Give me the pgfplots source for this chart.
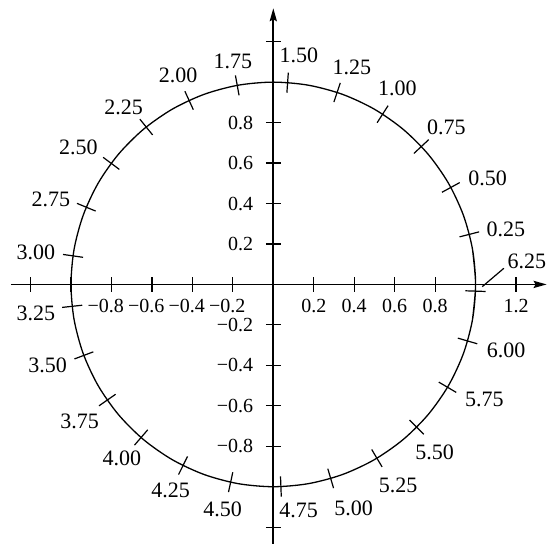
\documentclass[border=0pt]{standalone}
\usepackage{fontspec}
\setmainfont{Liberation Serif}
\usepackage{pgfplots}
\pgfplotsset{compat=1.18}
\usepackage{pgfplotstable}
\usetikzlibrary{arrows.meta}

% unit circle (10 degree steps, overlapping ends)
\pgfplotstableread{
c s
0.98481 -0.17365
1 0
0.98481 0.17365
0.93969 0.34202
0.86603 0.5
0.76604 0.64279
0.64279 0.76604
0.5 0.86603
0.34202 0.93969
0.17365 0.98481
0 1
-0.17365 0.98481
-0.34202 0.93969
-0.5 0.86603
-0.64279 0.76604
-0.76604 0.64279
-0.86603 0.5
-0.93969 0.34202
-0.98481 0.17365
-1 0
-0.98481 -0.17365
-0.93969 -0.34202
-0.86603 -0.5
-0.76604 -0.64279
-0.64279 -0.76604
-0.5 -0.86603
-0.34202 -0.93969
-0.17365 -0.98481
0 -1
0.17365 -0.98481
0.34202 -0.93969
0.5 -0.86603
0.64279 -0.76604
0.76604 -0.64279
0.86603 -0.5
0.93969 -0.34202
0.98481 -0.17365
1 0
0.98481 0.17365
}\circletable

% marks on the circle at t = 0.25, 0.50, ..., 6.25 (cos t, sin t)
\pgfplotstableread{
t c s
0.25 0.96891 0.24740
0.50 0.87758 0.47943
0.75 0.73169 0.68164
1.00 0.54030 0.84147
1.25 0.31532 0.94898
1.50 0.07074 0.99749
1.75 -0.17825 0.98399
2.00 -0.41615 0.90930
2.25 -0.62817 0.77807
2.50 -0.80114 0.59847
2.75 -0.92430 0.38166
3.00 -0.98999 0.14112
3.25 -0.99413 -0.10820
3.50 -0.93646 -0.35078
3.75 -0.82056 -0.57156
4.00 -0.65364 -0.75680
4.25 -0.44609 -0.89499
4.50 -0.21080 -0.97753
4.75 0.03760 -0.99929
5.00 0.28366 -0.95892
5.25 0.51208 -0.85893
5.50 0.70867 -0.70554
5.75 0.86119 -0.50830
6.00 0.96017 -0.27942
6.25 0.99945 -0.03318
}\marktable

% label positions
\pgfplotstableread{
x y label
1.150 0.273 0.25
1.060 0.525 0.50
0.855 0.777 0.75
0.613 0.970 1.00
0.388 1.072 1.25
0.126 1.134 1.50
-0.200 1.101 1.75
-0.470 1.032 2.00
-0.740 0.876 2.25
-0.964 0.676 2.50
-1.100 0.421 2.75
-1.174 0.159 3.00
-1.174 -0.142 3.25
-1.116 -0.398 3.50
-0.957 -0.678 3.75
-0.748 -0.859 4.00
-0.507 -1.019 4.25
-0.251 -1.111 4.50
0.125 -1.115 4.75
0.397 -1.106 5.00
0.617 -0.991 5.25
0.797 -0.831 5.50
1.044 -0.571 5.75
1.151 -0.324 6.00
1.253 0.116 6.25
}\labeltable

\begin{document}
\begin{tikzpicture}
\begin{axis}[
  x=101.15pt, y=101.15pt,
  axis lines=middle,
  xmin=-1.297, xmax=1.351, ymin=-1.283, ymax=1.365,
  clip=false,
  axis line style={line width=0.8pt, black, -{Stealth[length=6.5pt,width=3.6pt,inset=1pt]}},
  tick style={line width=0.6pt, black},
  major tick length=7.5pt,
  tick align=center,
  xtick={-1.2,-1,-0.8,-0.6,-0.4,-0.2,0.2,0.4,0.6,0.8,1,1.2},
  xticklabels={,,\llap{−}0.8,\llap{−}0.6,\llap{−}0.4,\llap{−}0.2,0.2,0.4,0.6,0.8,,1.2},
  ytick={-1.2,-1,-0.8,-0.6,-0.4,-0.2,0.2,0.4,0.6,0.8,1,1.2},
  yticklabels={,,−0.8,−0.6,−0.4,−0.2,0.2,0.4,0.6,0.8,,},
  ticklabel style={font=\fontsize{10}{12}\selectfont},
  xticklabel style={anchor=north, yshift=-0.3pt},
  yticklabel style={anchor=east, xshift=-2.8pt},
]
\path (axis cs:-1.351,-1.283) rectangle (axis cs:1.358,1.406);
\addplot[line width=0.65pt, black, smooth, mark=none] table[x=c, y=s] {\circletable};
\addplot[line width=0.6pt, black, mark=none,
  quiver={u={0.1*\thisrow{c}}, v={0.1*\thisrow{s}}}]
  table[x expr={0.95*\thisrow{c}}, y expr={0.95*\thisrow{s}}] {\marktable};
\addplot[line width=0.6pt, black, mark=none] coordinates {(1.033,-0.011) (1.140,0.080)};
\addplot[draw=none, mark=none, point meta=explicit symbolic, nodes near coords,
  every node near coord/.append style={anchor=center, font=\fontsize{11}{13}\selectfont, inner sep=0pt}]
  table[x=x, y=y, meta=label] {\labeltable};
\end{axis}
\end{tikzpicture}
\end{document}
